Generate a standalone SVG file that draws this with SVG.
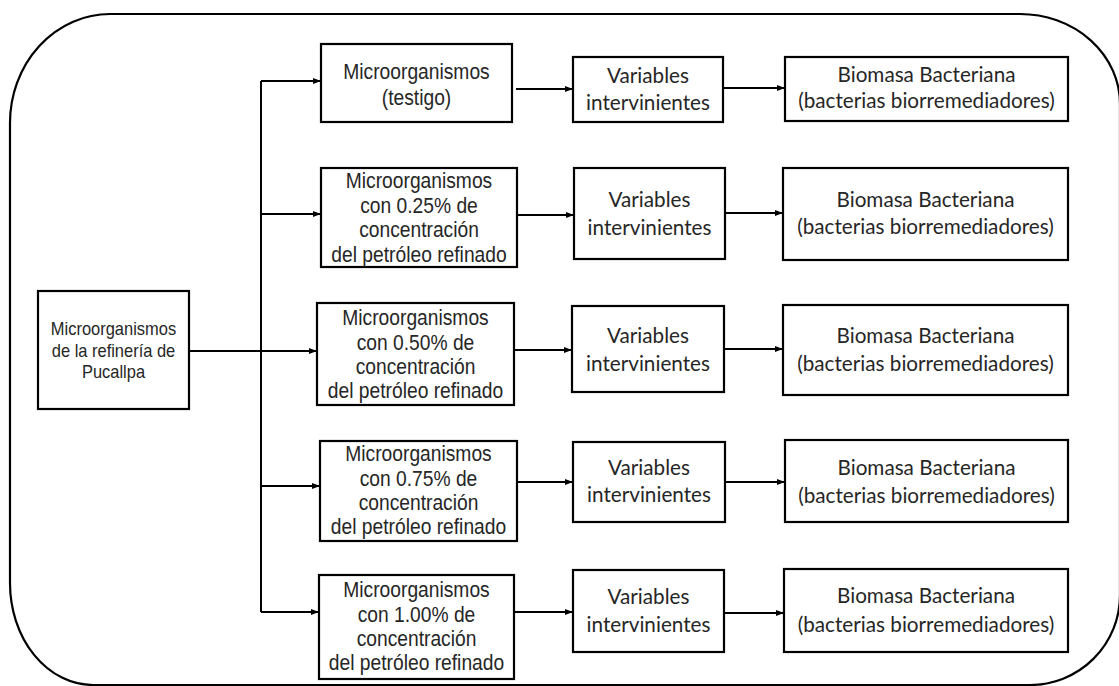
<svg xmlns="http://www.w3.org/2000/svg" width="1119" height="686" viewBox="0 0 1119 686">
  <style>
    .box { fill: #ffffff; stroke: #000000; stroke-width: 2.2; }
    .frame { fill: none; stroke: #000000; stroke-width: 2.2; }
    .link { fill: none; stroke: #000000; stroke-width: 2; }
    .arial { font-family: "Liberation Sans", Arial, sans-serif; fill: #262626; text-anchor: middle; }
    .src { font-size: 18.5px; }
    .grp { font-size: 21.5px; }
    .cal { font-family: Lato, "Open Sans", sans-serif; font-size: 20.7px; fill: #262626; text-anchor: middle; }
  </style>
  <defs>
    <marker id="arrow" viewBox="0 0 8 6" refX="8" refY="3" markerWidth="8" markerHeight="6" markerUnits="userSpaceOnUse" orient="auto">
      <path d="M0,0 L8,3 L0,6 Z" fill="#000000"/>
    </marker>
  </defs>

  <rect width="1119" height="686" fill="#ffffff"/>

  <!-- outer rounded frame -->
  <path class="frame" d="M110,14 H1020 A100,90 0 0 1 1120,104 V595 A90,90 0 0 1 1030,685 H93 A83,102 0 0 1 10,583 V123 A100,109 0 0 1 110,14 Z"/>

  <!-- connectors -->
  <g id="connectors">
    <path class="link" d="M189,351 H261"/>
    <path class="link" d="M261,81 V612"/>
    <path class="link" d="M261,81 H321" marker-end="url(#arrow)"/>
    <path class="link" d="M261,214 H321" marker-end="url(#arrow)"/>
    <path class="link" d="M261,351 H317" marker-end="url(#arrow)"/>
    <path class="link" d="M261,486 H320" marker-end="url(#arrow)"/>
    <path class="link" d="M261,612 H319" marker-end="url(#arrow)"/>

    <path class="link" d="M516,89 H573" marker-end="url(#arrow)"/>
    <path class="link" d="M517,215 H574" marker-end="url(#arrow)"/>
    <path class="link" d="M514,350 H572" marker-end="url(#arrow)"/>
    <path class="link" d="M517,482 H573" marker-end="url(#arrow)"/>
    <path class="link" d="M514,612 H573" marker-end="url(#arrow)"/>

    <path class="link" d="M723,88 H785" marker-end="url(#arrow)"/>
    <path class="link" d="M725,213 H783" marker-end="url(#arrow)"/>
    <path class="link" d="M724,349 H783" marker-end="url(#arrow)"/>
    <path class="link" d="M725,482 H785" marker-end="url(#arrow)"/>
    <path class="link" d="M724,613 H784" marker-end="url(#arrow)"/>
  </g>

  <!-- source -->
  <g id="source">
    <rect class="box" x="38" y="291" width="151" height="118"/>
    <g transform="translate(113.5 0) scale(0.89 1)">
      <text class="arial src" x="0" y="335">Microorganismos</text>
      <text class="arial src" x="0" y="357">de la refinería de</text>
      <text class="arial src" x="0" y="378">Pucallpa</text>
    </g>
  </g>

  <!-- treatment groups -->
  <g id="group-testigo">
    <rect class="box" x="321" y="44" width="191" height="78"/>
    <g transform="translate(416.5 0) scale(0.895 1)">
      <text class="arial grp" x="0" y="79">Microorganismos</text>
      <text class="arial grp" x="0" y="105">(testigo)</text>
    </g>
  </g>
  <g id="group-025">
    <rect class="box" x="321" y="168" width="196" height="99"/>
    <g transform="translate(419 0) scale(0.895 1)">
      <text class="arial grp" x="0" y="188">Microorganismos</text>
      <text class="arial grp" x="0" y="213">con 0.25% de</text>
      <text class="arial grp" x="0" y="237">concentración</text>
      <text class="arial grp" x="0" y="262">del petróleo refinado</text>
    </g>
  </g>
  <g id="group-050">
    <rect class="box" x="317" y="303" width="197" height="102"/>
    <g transform="translate(415.5 0) scale(0.895 1)">
      <text class="arial grp" x="0" y="325">Microorganismos</text>
      <text class="arial grp" x="0" y="350">con 0.50% de</text>
      <text class="arial grp" x="0" y="374">concentración</text>
      <text class="arial grp" x="0" y="398">del petróleo refinado</text>
    </g>
  </g>
  <g id="group-075">
    <rect class="box" x="320" y="441" width="197" height="100"/>
    <g transform="translate(418.5 0) scale(0.895 1)">
      <text class="arial grp" x="0" y="461">Microorganismos</text>
      <text class="arial grp" x="0" y="486">con 0.75% de</text>
      <text class="arial grp" x="0" y="510">concentración</text>
      <text class="arial grp" x="0" y="534">del petróleo refinado</text>
    </g>
  </g>
  <g id="group-100">
    <rect class="box" x="319" y="575" width="195" height="104"/>
    <g transform="translate(416.5 0) scale(0.895 1)">
      <text class="arial grp" x="0" y="597">Microorganismos</text>
      <text class="arial grp" x="0" y="622">con 1.00% de</text>
      <text class="arial grp" x="0" y="646">concentración</text>
      <text class="arial grp" x="0" y="670">del petróleo refinado</text>
    </g>
  </g>

  <!-- intervening variables -->
  <g id="variables-1">
    <rect class="box" x="573" y="57" width="150" height="65"/>
    <text class="cal" x="648" y="83">Variables</text>
    <text class="cal" x="648" y="110">intervinientes</text>
  </g>
  <g id="variables-2">
    <rect class="box" x="574" y="168" width="151" height="91"/>
    <text class="cal" x="649.5" y="207">Variables</text>
    <text class="cal" x="649.5" y="235">intervinientes</text>
  </g>
  <g id="variables-3">
    <rect class="box" x="572" y="306" width="152" height="86"/>
    <text class="cal" x="648" y="343">Variables</text>
    <text class="cal" x="648" y="371">intervinientes</text>
  </g>
  <g id="variables-4">
    <rect class="box" x="573" y="442" width="152" height="80"/>
    <text class="cal" x="649" y="475">Variables</text>
    <text class="cal" x="649" y="502">intervinientes</text>
  </g>
  <g id="variables-5">
    <rect class="box" x="573" y="570" width="151" height="82"/>
    <text class="cal" x="648.5" y="604">Variables</text>
    <text class="cal" x="648.5" y="632">intervinientes</text>
  </g>

  <!-- bacterial biomass -->
  <g id="biomasa-1">
    <rect class="box" x="785" y="57" width="283" height="64"/>
    <text class="cal" x="926.5" y="82">Biomasa Bacteriana</text>
    <text class="cal" x="926.5" y="108">(bacterias biorremediadores)</text>
  </g>
  <g id="biomasa-2">
    <rect class="box" x="783" y="168" width="285" height="92"/>
    <text class="cal" x="925.5" y="207">Biomasa Bacteriana</text>
    <text class="cal" x="925.5" y="234">(bacterias biorremediadores)</text>
  </g>
  <g id="biomasa-3">
    <rect class="box" x="783" y="305" width="285" height="90"/>
    <text class="cal" x="925.5" y="343">Biomasa Bacteriana</text>
    <text class="cal" x="925.5" y="371">(bacterias biorremediadores)</text>
  </g>
  <g id="biomasa-4">
    <rect class="box" x="785" y="440" width="283" height="82"/>
    <text class="cal" x="926.5" y="475">Biomasa Bacteriana</text>
    <text class="cal" x="926.5" y="503">(bacterias biorremediadores)</text>
  </g>
  <g id="biomasa-5">
    <rect class="box" x="784" y="569" width="284" height="83"/>
    <text class="cal" x="926" y="603">Biomasa Bacteriana</text>
    <text class="cal" x="926" y="632">(bacterias biorremediadores)</text>
  </g>
</svg>
